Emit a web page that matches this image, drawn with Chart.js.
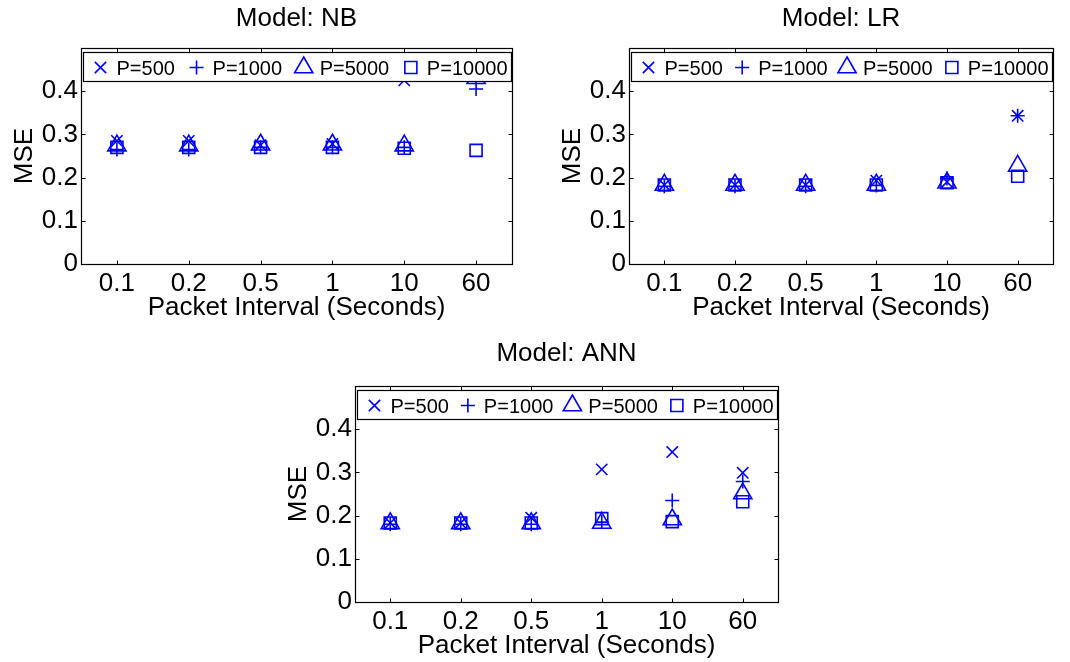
<!DOCTYPE html>
<html>
<head>
<meta charset="utf-8">
<script src="https://cdn.jsdelivr.net/npm/chart.js@4/dist/chart.umd.min.js"></script>
<style>
  body { margin: 0; background: #fff; }
  #wrap { position: relative; width: 1070px; height: 662px; overflow: hidden; background: #fff; }
  canvas { position: absolute; }
</style>
</head>
<body>
<div id="wrap">
  <canvas id="nb" width="530" height="330" style="left:0px;top:0px"></canvas>
  <canvas id="lr" width="540" height="330" style="left:530px;top:0px"></canvas>
  <canvas id="ann" width="540" height="332" style="left:270px;top:330px"></canvas>
</div>
<script>
// x categories (packet interval, seconds)
const intervals = ['0.1', '0.2', '0.5', '1', '10', '60'];
const seriesNames = ['P=500', 'P=1000', 'P=5000', 'P=10000'];
const yTicks = [0, 0.1, 0.2, 0.3, 0.4];

// Model: NB
const nb500   = [0.285, 0.285, 0.275, 0.278, 0.425, 0.45];
const nb1000  = [0.265, 0.265, 0.270, 0.270, 0.270, 0.405];
const nb5000  = [0.274, 0.274, 0.276, 0.276, 0.274, 0.430];
const nb10000 = [0.270, 0.270, 0.270, 0.270, 0.268, 0.263];

// Model: LR
const lr500   = [0.183, 0.183, 0.183, 0.193, 0.190, 0.343];
const lr1000  = [0.180, 0.180, 0.180, 0.182, 0.198, 0.343];
const lr5000  = [0.183, 0.183, 0.183, 0.183, 0.188, 0.227];
const lr10000 = [0.183, 0.183, 0.183, 0.183, 0.188, 0.203];

// Model: ANN
const ann500   = [0.183, 0.183, 0.195, 0.307, 0.347, 0.299];
const ann1000  = [0.180, 0.180, 0.180, 0.185, 0.235, 0.279];
const ann5000  = [0.182, 0.182, 0.182, 0.183, 0.191, 0.251];
const ann10000 = [0.183, 0.183, 0.183, 0.193, 0.186, 0.232];

const FONT = '"Liberation Sans", Arial, Helvetica, sans-serif';
const BLUE = '#0000ff';
const markers = ['crossRot', 'cross', 'triangle', 'rect'];
const markerSize = {crossRot: 8, cross: 7, triangle: 10.5, rect: 8.5};

function drawMarker(ctx, style, x, y) {
    const opts = {pointStyle: style, radius: markerSize[style], rotation: 0, borderWidth: 1.6};
    if (Chart.helpers && Chart.helpers.drawPoint) {
        Chart.helpers.drawPoint(ctx, opts, x, y);
        return;
    }
    const r = markerSize[style];
    ctx.beginPath();
    if (style === 'cross') {
        ctx.moveTo(x - r, y); ctx.lineTo(x + r, y);
        ctx.moveTo(x, y - r); ctx.lineTo(x, y + r);
    } else if (style === 'crossRot') {
        const s = r * Math.SQRT1_2;
        ctx.moveTo(x - s, y - s); ctx.lineTo(x + s, y + s);
        ctx.moveTo(x - s, y + s); ctx.lineTo(x + s, y - s);
    } else if (style === 'triangle') {
        ctx.moveTo(x, y - r);
        ctx.lineTo(x + r * 0.866, y + r / 2);
        ctx.lineTo(x - r * 0.866, y + r / 2);
        ctx.closePath();
    } else {
        const s = r * Math.SQRT1_2;
        ctx.rect(x - s, y - s, 2 * s, 2 * s);
    }
    ctx.stroke();
}

// box around the axes, inner tick marks and the legend inside the plot
const framePlugin = {
    id: 'frame',
    afterDatasetsDraw(chart) {
        const ctx = chart.ctx;
        const a = chart.chartArea;
        const xs = chart.scales.x, ys = chart.scales.y;
        const L = Math.round(a.left) + 0.5, R = Math.round(a.right) + 0.5;
        const T = Math.round(a.top) + 0.5, B = Math.round(a.bottom) + 0.5;
        ctx.save();
        ctx.strokeStyle = '#000';
        ctx.lineWidth = 1;
        ctx.beginPath();
        for (let i = 0; i < xs.ticks.length; i++) {
            const px = Math.round(xs.getPixelForTick(i)) + 0.5;
            ctx.moveTo(px, B); ctx.lineTo(px, B - 4);
            ctx.moveTo(px, T); ctx.lineTo(px, T + 4);
        }
        yTicks.forEach(function(v) {
            if (v <= 0) return;
            const py = Math.round(ys.getPixelForValue(v)) + 0.5;
            ctx.moveTo(L, py); ctx.lineTo(L + 4, py);
            ctx.moveTo(R, py); ctx.lineTo(R - 4, py);
        });
        ctx.stroke();
        ctx.lineWidth = 1.2;
        ctx.strokeRect(L, T, R - L, B - T);

        // legend
        const x0 = L + 2, x1 = R - 1, y0 = T + 4, h = 29;
        ctx.fillStyle = '#fff';
        ctx.fillRect(x0, y0, x1 - x0, h);
        ctx.strokeRect(x0, y0, x1 - x0, h);
        ctx.font = '20px ' + FONT;
        const widths = chart.data.datasets.map(d => ctx.measureText(d.label).width);
        const used = 17 + 4 + widths.reduce((s, w) => s + w + 16, 0);
        const gap = (x1 - x0 - used) / (widths.length - 1);
        let mx = x0 + 17;
        chart.data.datasets.forEach(function(d, i) {
            ctx.strokeStyle = BLUE;
            ctx.fillStyle = 'rgba(0,0,0,0)';
            ctx.lineWidth = 1.6;
            drawMarker(ctx, d.pointStyle, mx, y0 + 15);
            ctx.fillStyle = '#000';
            ctx.textAlign = 'left';
            ctx.textBaseline = 'middle';
            ctx.fillText(d.label, mx + 16, y0 + 16.5);
            mx += 16 + widths[i] + gap;
        });
        ctx.restore();
    }
};

function panel(id, title, values, geo) {
    const canvas = document.getElementById(id);
    return new Chart(canvas, {
        type: 'line',
        data: {
            labels: intervals,
            datasets: seriesNames.map(function(name, i) {
                return {
                    label: name,
                    data: values[i],
                    showLine: false,
                    pointStyle: markers[i],
                    pointRadius: markerSize[markers[i]],
                    pointBorderColor: BLUE,
                    pointBackgroundColor: 'rgba(0,0,0,0)',
                    pointBorderWidth: 1.6,
                    borderColor: BLUE,
                    backgroundColor: 'rgba(0,0,0,0)'
                };
            })
        },
        options: {
            responsive: false,
            animation: false,
            events: [],
            layout: {padding: {left: geo.padLeft, right: geo.padRight, top: 0, bottom: geo.padBottom}},
            plugins: {
                legend: {display: false},
                tooltip: {enabled: false},
                title: {
                    display: true,
                    text: title,
                    fullSize: false,
                    color: '#000',
                    font: {family: FONT, size: 26, weight: 'normal', lineHeight: 1.2},
                    padding: {top: geo.titleTop, bottom: geo.titleBottom}
                }
            },
            scales: {
                x: {
                    type: 'category',
                    offset: true,
                    grid: {display: false, drawTicks: false},
                    border: {display: false},
                    ticks: {color: '#000', font: {family: FONT, size: 26}, padding: 4, maxRotation: 0, autoSkip: false},
                    title: {display: true, text: 'Packet Interval (Seconds)', color: '#000',
                            font: {family: FONT, size: 26, lineHeight: 1.2}, padding: {top: 0, bottom: 1}},
                    afterFit: function(s) { s.height = 60; }
                },
                y: {
                    min: 0,
                    max: 0.5,
                    grid: {display: false, drawTicks: false},
                    border: {display: false},
                    afterBuildTicks: function(s) { s.ticks = yTicks.map(v => ({value: v})); },
                    ticks: {color: '#000', font: {family: FONT, size: 26}, padding: 3,
                            callback: v => String(Math.round(v * 10) / 10)},
                    title: {display: true, text: 'MSE', color: '#000',
                            font: {family: FONT, size: 26, lineHeight: 1.2}, padding: {top: 8, bottom: 0}},
                    afterFit: function(s) { s.width = 80; }
                }
            }
        },
        plugins: [framePlugin]
    });
}

panel('nb', 'Model: NB', [nb500, nb1000, nb5000, nb10000],
      {padLeft: 1, padRight: 18, padBottom: 6, titleTop: 3.7, titleBottom: 13.1});
panel('lr', 'Model: LR', [lr500, lr1000, lr5000, lr10000],
      {padLeft: 19, padRight: 17, padBottom: 6, titleTop: 3.7, titleBottom: 13.1});
panel('ann', 'Model: ANN', [ann500, ann1000, ann5000, ann10000],
      {padLeft: 5, padRight: 32, padBottom: 0, titleTop: 8.7, titleBottom: 16.1});
</script>
</body>
</html>
